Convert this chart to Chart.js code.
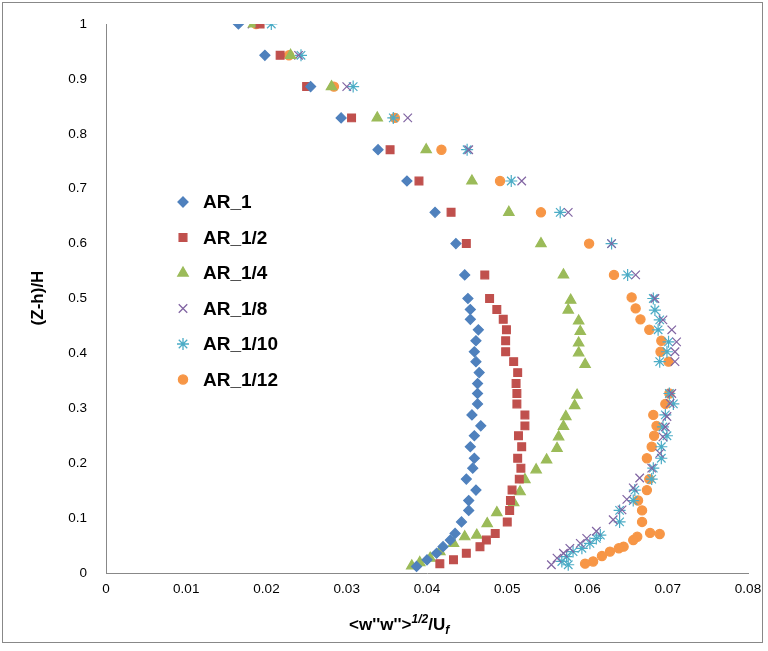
<!DOCTYPE html>
<html><head><meta charset="utf-8">
<script src="https://cdn.jsdelivr.net/npm/chart.js@4.4.0/dist/chart.umd.min.js"></script>
<style>html,body{margin:0;padding:0;background:#fff}#wrap{width:768px;height:651px}</style>
</head><body><div id="wrap"><canvas id="c"></canvas></div>
<script>
// upper rows shared by all series
const topY = [1, 0.943, 0.886, 0.829, 0.771, 0.714, 0.657, 0.6, 0.543];

const ar1Top = [0.0165, 0.0198, 0.0255, 0.0293, 0.0339, 0.0375, 0.041, 0.0436, 0.0447];
const ar1Y = [0.5, 0.48, 0.462, 0.443, 0.423, 0.403, 0.385, 0.365, 0.345, 0.327, 0.308, 0.288, 0.268, 0.25, 0.23, 0.209, 0.191, 0.171, 0.151, 0.132, 0.114, 0.093, 0.072, 0.06, 0.048, 0.036, 0.024, 0.012];
const ar1X = [0.0451, 0.0454, 0.0454, 0.0464, 0.0461, 0.0459, 0.0461, 0.0465, 0.0463, 0.0463, 0.0463, 0.0456, 0.0467, 0.0459, 0.0454, 0.0459, 0.0457, 0.0449, 0.0461, 0.0452, 0.0452, 0.0443, 0.0435, 0.0429, 0.042, 0.0412, 0.04, 0.0387];

const ar2Top = [0.0192, 0.0217, 0.025, 0.0306, 0.0354, 0.039, 0.043, 0.0449, 0.0472];
const ar2Y = [0.5, 0.48, 0.462, 0.443, 0.423, 0.403, 0.385, 0.365, 0.345, 0.327, 0.308, 0.288, 0.268, 0.25, 0.23, 0.209, 0.191, 0.171, 0.151, 0.132, 0.114, 0.093, 0.072, 0.06, 0.048, 0.036, 0.024, 0.017];
const ar2X = [0.0478, 0.0487, 0.0495, 0.0499, 0.0498, 0.0498, 0.0508, 0.0513, 0.0511, 0.0512, 0.0512, 0.0522, 0.0522, 0.0514, 0.0518, 0.0513, 0.0517, 0.0515, 0.0506, 0.0504, 0.0503, 0.05, 0.0485, 0.0474, 0.0466, 0.0449, 0.0433, 0.0416];

const ar4Top = [0.0184, 0.023, 0.0281, 0.0338, 0.0399, 0.0456, 0.0502, 0.0542, 0.057];
const ar4Y = [0.497, 0.479, 0.459, 0.44, 0.419, 0.401, 0.38, 0.324, 0.305, 0.285, 0.267, 0.248, 0.227, 0.206, 0.188, 0.17, 0.148, 0.128, 0.11, 0.09, 0.069, 0.066, 0.054, 0.039, 0.027, 0.019, 0.013];
const ar4X = [0.0579, 0.0576, 0.0589, 0.0591, 0.0589, 0.0589, 0.0597, 0.0587, 0.0584, 0.0573, 0.057, 0.0564, 0.0562, 0.0549, 0.0536, 0.0522, 0.0516, 0.0508, 0.0487, 0.0475, 0.0462, 0.0447, 0.0433, 0.0416, 0.0404, 0.0391, 0.0381];

const ar8Top = [0.0182, 0.024, 0.03, 0.0376, 0.0452, 0.0518, 0.0576, 0.063, 0.066];
const ar8Y = [0.5, 0.461, 0.443, 0.421, 0.403, 0.385, 0.327, 0.309, 0.285, 0.266, 0.248, 0.218, 0.191, 0.173, 0.155, 0.134, 0.115, 0.097, 0.076, 0.063, 0.054, 0.045, 0.036, 0.027, 0.015];
const ar8X = [0.0684, 0.0694, 0.0705, 0.0711, 0.0709, 0.0709, 0.0705, 0.0703, 0.0699, 0.0697, 0.0694, 0.069, 0.068, 0.0665, 0.0657, 0.0649, 0.0643, 0.0632, 0.0611, 0.0599, 0.0591, 0.0578, 0.057, 0.0562, 0.0555];

const ar10Top = [0.0206, 0.0243, 0.0308, 0.0358, 0.045, 0.0505, 0.0566, 0.063, 0.065];
const ar10Y = [0.5, 0.479, 0.461, 0.443, 0.421, 0.403, 0.385, 0.327, 0.308, 0.288, 0.266, 0.25, 0.23, 0.209, 0.191, 0.171, 0.151, 0.132, 0.114, 0.093, 0.069, 0.063, 0.054, 0.045, 0.039, 0.03, 0.021, 0.015];
const ar10X = [0.0682, 0.0684, 0.069, 0.0688, 0.0701, 0.0699, 0.069, 0.0702, 0.0707, 0.0697, 0.0694, 0.0699, 0.0692, 0.0692, 0.0682, 0.068, 0.0659, 0.0657, 0.064, 0.064, 0.0616, 0.0611, 0.0603, 0.0593, 0.0582, 0.0574, 0.0568, 0.0576];

const ar12Top = [0.0187, 0.0228, 0.0284, 0.036, 0.0418, 0.0491, 0.0542, 0.0602, 0.0633];
const ar12Y = [0.502, 0.482, 0.462, 0.443, 0.423, 0.403, 0.385, 0.327, 0.308, 0.288, 0.268, 0.25, 0.23, 0.209, 0.171, 0.151, 0.132, 0.114, 0.093, 0.073, 0.071, 0.066, 0.06, 0.048, 0.045, 0.039, 0.031, 0.021, 0.017];
const ar12X = [0.0655, 0.066, 0.0666, 0.0677, 0.0692, 0.0691, 0.0701, 0.0702, 0.0697, 0.0682, 0.0686, 0.0683, 0.068, 0.0674, 0.0677, 0.0674, 0.0663, 0.0668, 0.0668, 0.0678, 0.069, 0.0662, 0.0657, 0.0645, 0.0639, 0.0628, 0.0618, 0.0607, 0.0597];

const seriesNames = ["AR_1", "AR_1/2", "AR_1/4", "AR_1/8", "AR_1/10", "AR_1/12"];
const seriesColors = ["#4F81BD", "#C0504D", "#9BBB59", "#8064A2", "#4BACC6", "#F79646"];
const seriesStyles = ["rectRot", "rect", "triangle", "crossRot", "star", "circle"];
const seriesSizes = [5, 5.5, 6, 6, 6, 4.6];

function pts(topX, xs, ys) {
  const out = topX.map((x, i) => ({ x: x, y: topY[i] }));
  xs.forEach((x, i) => out.push({ x: x, y: ys[i] }));
  return out;
}
const seriesData = [
  pts(ar1Top, ar1X, ar1Y), pts(ar2Top, ar2X, ar2Y), pts(ar4Top, ar4X, ar4Y),
  pts(ar8Top, ar8X, ar8Y), pts(ar10Top, ar10X, ar10Y), pts(ar12Top, ar12X, ar12Y)
];

const overlay = {
  id: "overlay",
  afterDraw(chart) {
    const ctx = chart.ctx;
    ctx.save();
    // frame
    ctx.strokeStyle = "#888"; ctx.lineWidth = 1;
    ctx.strokeRect(2.5, 2.5, 760, 640);
    // legend
    ctx.font = "bold 19px 'Liberation Sans', Arial, sans-serif";
    ctx.textBaseline = "middle";
    seriesNames.forEach((n, i) => {
      const y = 202 + i * 35.5;
      ctx.strokeStyle = seriesColors[i]; ctx.fillStyle = seriesColors[i]; ctx.lineWidth = 1.3;
      Chart.helpers.drawPoint(ctx, { pointStyle: seriesStyles[i], radius: seriesSizes[i], rotation: 0, borderWidth: 1.3 }, 183, y);
      ctx.fillStyle = "#000";
      ctx.fillText(n, 203, y + 1);
    });
    // y title
    ctx.save();
    ctx.translate(38, 298); ctx.rotate(-Math.PI / 2);
    ctx.font = "bold 17px 'Liberation Sans', Arial, sans-serif";
    ctx.textAlign = "center"; ctx.fillText("(Z-h)/H", 0, 0);
    ctx.restore();
    // x title
    const f = "'Liberation Sans', Arial, sans-serif";
    let x = 349; const by = 630;
    ctx.textBaseline = "alphabetic"; ctx.textAlign = "left";
    const part = (t, font, dy) => { ctx.font = font; ctx.fillText(t, x, by + dy); x += ctx.measureText(t).width; };
    part("<w''w''>", "bold 17px " + f, 0);
    part("1/2", "bold italic 12px " + f, -7);
    part("/U", "bold 17px " + f, 0);
    part("f", "bold italic 12px " + f, 4);
    ctx.restore();
  }
};

new Chart(document.getElementById("c"), {
  type: "scatter",
  data: {
    datasets: seriesNames.map((n, i) => ({
      label: n,
      data: seriesData[i],
      pointStyle: seriesStyles[i],
      pointRadius: seriesSizes[i],
      borderWidth: 1.2,
      borderColor: seriesColors[i],
      backgroundColor: seriesColors[i]
    }))
  },
  options: {
    responsive: true, maintainAspectRatio: false, animation: false,
    layout: { padding: { top: 24, right: 20, left: 0, bottom: 0 } },
    plugins: { legend: { display: false }, tooltip: { enabled: false } },
    scales: {
      x: {
        min: 0, max: 0.08,
        ticks: { stepSize: 0.01, color: "#000", font: { size: 13.5, family: "'Liberation Sans', Arial" },
          callback: v => String(Math.round(v * 100) / 100) },
        grid: { display: false, drawTicks: true, tickLength: 5, color: "#888" },
        border: { color: "#888" },
        afterFit: s => { s.height = 78; }
      },
      y: {
        min: 0, max: 1,
        ticks: { stepSize: 0.1, color: "#000", font: { size: 13.5, family: "'Liberation Sans', Arial" }, padding: 14,
          callback: v => String(Math.round(v * 10) / 10) },
        grid: { display: false, tickLength: 5, color: "#888" },
        border: { color: "#888" },
        afterFit: s => { s.width = 106; }
      }
    }
  },
  plugins: [overlay]
});
</script></body></html>
